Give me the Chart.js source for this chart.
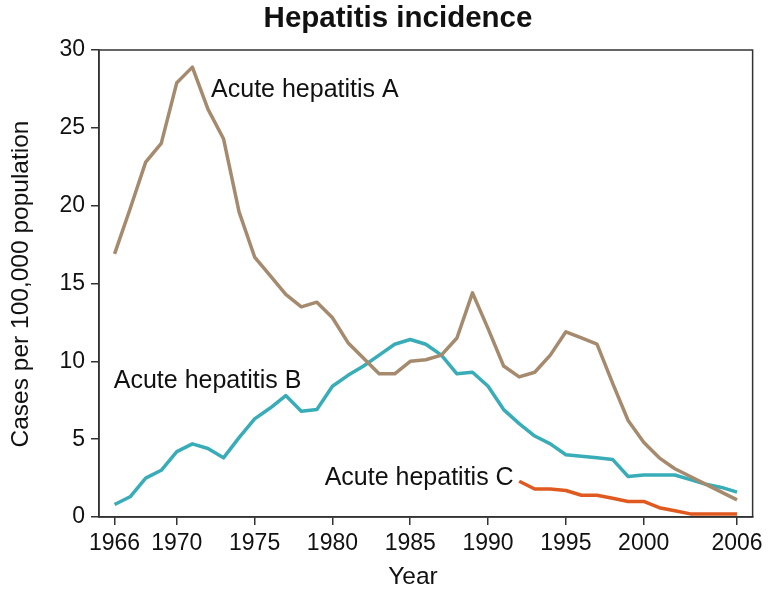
<!DOCTYPE html>
<html>
<head>
<meta charset="utf-8">
<script src="https://cdn.jsdelivr.net/npm/chart.js@4/dist/chart.umd.min.js"></script>
<style>
  html, body { margin: 0; padding: 0; background: #fff; }
  #wrap { width: 768px; height: 589px; position: relative; }
</style>
</head>
<body>
<div id="wrap"><canvas id="chart" width="768" height="589"></canvas></div>
<script>
// data
const years = [1966, 1967, 1968, 1969, 1970, 1971, 1972, 1973, 1974, 1975,
  1976, 1977, 1978, 1979, 1980, 1981, 1982, 1983, 1984, 1985,
  1986, 1987, 1988, 1989, 1990, 1991, 1992, 1993, 1994, 1995,
  1996, 1997, 1998, 1999, 2000, 2001, 2002, 2003, 2004, 2005, 2006];
const hepA = [16.9, 19.8, 22.8, 24.0, 27.9, 28.9, 26.2, 24.3, 19.6, 16.7,
  15.5, 14.3, 13.5, 13.8, 12.8, 11.2, 10.2, 9.2, 9.2, 10.0,
  10.1, 10.4, 11.5, 14.4, 12.1, 9.7, 9.0, 9.3, 10.4, 11.9,
  11.5, 11.1, 8.6, 6.2, 4.8, 3.8, 3.1, 2.6, 2.1, 1.6, 1.1];
const hepB = [0.8, 1.3, 2.5, 3.0, 4.2, 4.7, 4.4, 3.8, 5.1, 6.3,
  7.0, 7.8, 6.8, 6.9, 8.4, 9.1, 9.7, 10.4, 11.1, 11.4,
  11.1, 10.4, 9.2, 9.3, 8.4, 6.9, 6.0, 5.2, 4.7, 4.0,
  3.9, 3.8, 3.7, 2.6, 2.7, 2.7, 2.7, 2.4, 2.1, 1.9, 1.6];
const yearsC = [1992, 1993, 1994, 1995, 1996, 1997, 1998, 1999, 2000,
  2001, 2002, 2003, 2004, 2005, 2006];
const hepC = [2.3, 1.8, 1.8, 1.7, 1.4, 1.4, 1.2, 1.0, 1.0,
  0.6, 0.4, 0.2, 0.2, 0.2, 0.2];
const xTicks = [1966, 1970, 1975, 1980, 1985, 1990, 1995, 2000, 2006];
const seriesNames = ['Acute hepatitis A', 'Acute hepatitis B', 'Acute hepatitis C'];

const FONT = '"Liberation Sans", Arial, sans-serif';

function pts(xs, ys) {
  return xs.map((x, i) => ({ x: x, y: ys[i] }));
}

// frame, title and the series labels
const decor = {
  id: 'decor',
  afterDraw(chart) {
    const ctx = chart.ctx;
    const a = chart.chartArea;
    const sx = chart.scales.x, sy = chart.scales.y;
    ctx.save();
    ctx.strokeStyle = '#333';
    ctx.lineWidth = 1.5;
    ctx.strokeRect(a.left, a.top, a.right - a.left, a.bottom - a.top);

    ctx.fillStyle = '#111';
    ctx.textBaseline = 'middle';
    ctx.font = 'bold 29.5px ' + FONT;
    ctx.textAlign = 'center';
    ctx.fillText('Hepatitis incidence', 398, 19);

    ctx.font = '24.5px ' + FONT;
    ctx.fillText('Year', 413, 577);
    ctx.save();
    ctx.translate(21, 284);
    ctx.rotate(-Math.PI / 2);
    ctx.fillText('Cases per 100,000 population', 0, 0);
    ctx.restore();

    ctx.font = '25px ' + FONT;
    ctx.textAlign = 'left';
    ctx.fillText(seriesNames[0], sx.getPixelForValue(1972.2), sy.getPixelForValue(27.4));
    ctx.fillText(seriesNames[1], sx.getPixelForValue(1965.95), sy.getPixelForValue(8.7));
    ctx.fillText(seriesNames[2], sx.getPixelForValue(1979.5), sy.getPixelForValue(2.5));
    ctx.restore();
  }
};

new Chart(document.getElementById('chart'), {
  type: 'line',
  data: {
    datasets: [
      { label: seriesNames[0], data: pts(years, hepA), borderColor: '#a58a6e' },
      { label: seriesNames[1], data: pts(years, hepB), borderColor: '#38adb8' },
      { label: seriesNames[2], data: pts(yearsC, hepC), borderColor: '#e05a20' }
    ]
  },
  options: {
    responsive: false,
    animation: false,
    layout: { padding: { top: 50, right: 15, left: 0, bottom: 0 } },
    elements: {
      line: { borderWidth: 3.5, tension: 0, borderJoinStyle: 'round' },
      point: { radius: 0 }
    },
    plugins: {
      legend: { display: false },
      title: { display: false },
      tooltip: { enabled: false }
    },
    scales: {
      x: {
        type: 'linear',
        min: 1965,
        max: 2007,
        afterBuildTicks(scale) {
          scale.ticks = xTicks.map(v => ({ value: v }));
        },
        afterFit(scale) { scale.height = 72; },
        grid: { drawOnChartArea: false, drawTicks: true, tickLength: 8, color: '#333', lineWidth: 1.5 },
        border: { display: true, color: '#333', width: 1.5 },
        ticks: {
          color: '#111',
          padding: 5,
          maxRotation: 0,
          autoSkip: false,
          font: { family: FONT, size: 23 },
          callback: v => String(v)
        }
      },
      y: {
        min: 0,
        max: 30,
        afterFit(scale) { scale.width = 99; },
        grid: { drawOnChartArea: false, drawTicks: true, tickLength: 8, color: '#333', lineWidth: 1.5 },
        border: { display: true, color: '#333', width: 1.5 },
        ticks: {
          stepSize: 5,
          color: '#111',
          padding: 6,
          font: { family: FONT, size: 23 }
        }
      }
    }
  },
  plugins: [decor]
});
</script>
</body>
</html>
